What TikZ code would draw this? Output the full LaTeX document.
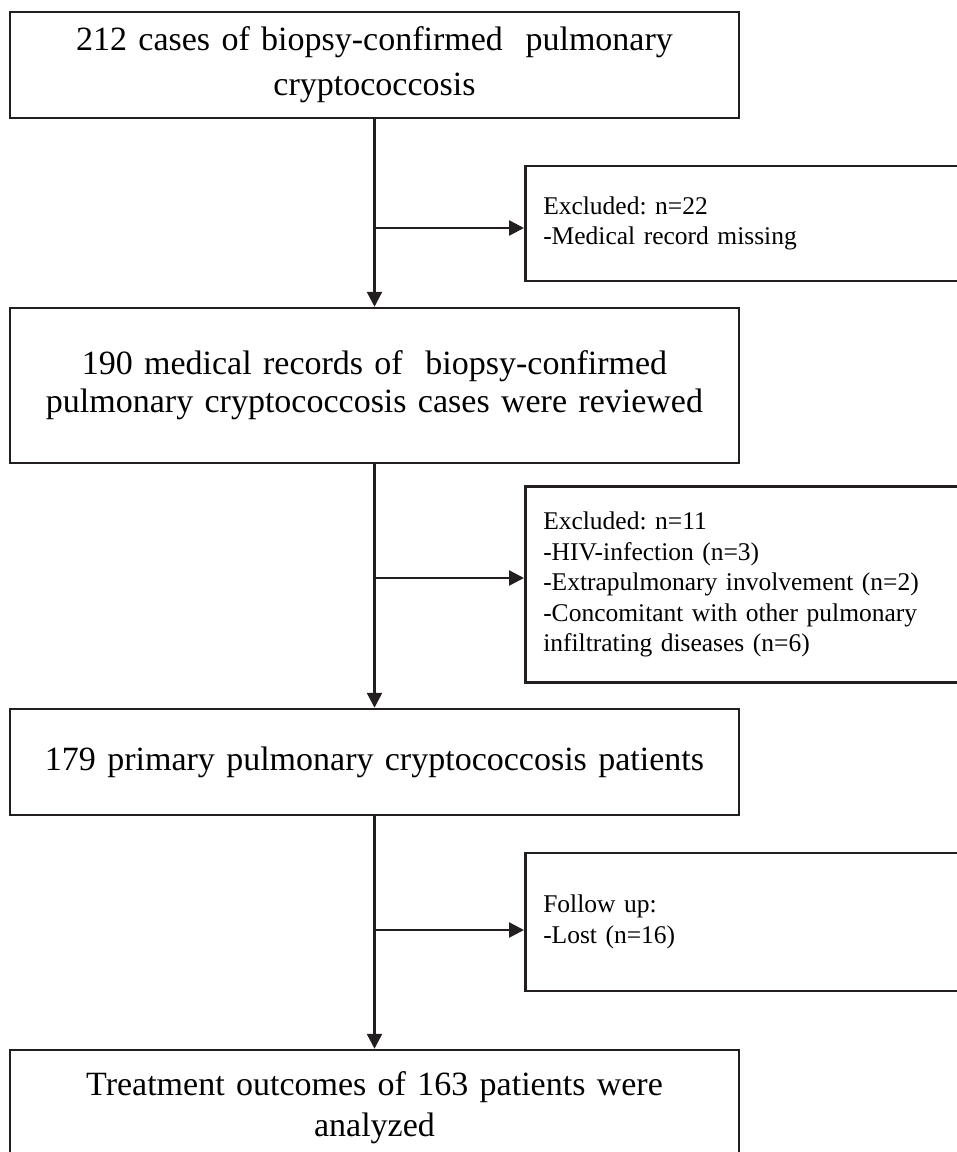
\documentclass[tikz,border=0pt]{standalone}
\usepackage{fontspec}
\setmainfont{Liberation Serif}
\usetikzlibrary{arrows.meta}
\definecolor{ink}{HTML}{231F20}
\frenchspacing
\begin{document}
\begin{tikzpicture}[x=1pt, y=1pt,
    mainbox/.style={draw=ink, line width=2.5pt, minimum width=729pt, text width=715pt, align=center, inner sep=0pt, font=\fontsize{34}{38}\selectfont},
    sidebox/.style={draw=ink, line width=2.5pt, anchor=west, text width=430pt, align=left, inner xsep=18pt, inner ysep=0pt, font=\fontsize{25.5}{30.5}\selectfont},
    flow/.style={draw=ink, line width=2.5pt, -{Triangle[length=15pt, width=15pt]}}]
        \useasboundingbox (0, 0) rectangle (957, -1152);
        \clip (0, 0) rectangle (957, -1152);
        % main column
        \node[mainbox, minimum height=106pt] (cases) at (374.5, -65) {212 cases of biopsy-confirmed\ \ pulmonary\\[7pt]cryptococcosis};
        \node[mainbox, minimum height=155pt] (records) at (374.5, -385.5) {190 medical records of\ \ biopsy-confirmed\\pulmonary cryptococcosis cases were reviewed};
        \node[mainbox, minimum height=106pt] (primary) at (374.5, -762) {179 primary pulmonary cryptococcosis patients};
        \node[mainbox, minimum height=115pt] (outcome) at (374.5, -1107.5) {Treatment outcomes of 163 patients were\\[3pt]analyzed};
        % side boxes
        \node[sidebox, minimum height=115pt] (excl1) at (524, -223.5) {Excluded: n=22\\-Medical record missing};
        \node[sidebox, minimum height=196pt] (excl2) at (524, -584.5) {Excluded: n=11\\-HIV-infection (n=3)\\-Extrapulmonary involvement (n=2)\\-Concomitant with other pulmonary\\infiltrating diseases (n=6)};
        \node[sidebox, minimum height=138pt] (lost) at (524, -922) {Follow up:\\-Lost (n=16)};
        % arrows
        \draw[flow] (cases) -- (records);
        \draw[flow] (records) -- (primary);
        \draw[flow] (primary) -- (outcome);
        \coordinate (split1) at (374.5, -228);
        \coordinate (split2) at (374.5, -578);
        \coordinate (split3) at (374.5, -930);
        \draw[flow] (split1) -- (split1 -| excl1.west);
        \draw[flow] (split2) -- (split2 -| excl2.west);
        \draw[flow] (split3) -- (split3 -| lost.west);
\end{tikzpicture}
\end{document}
